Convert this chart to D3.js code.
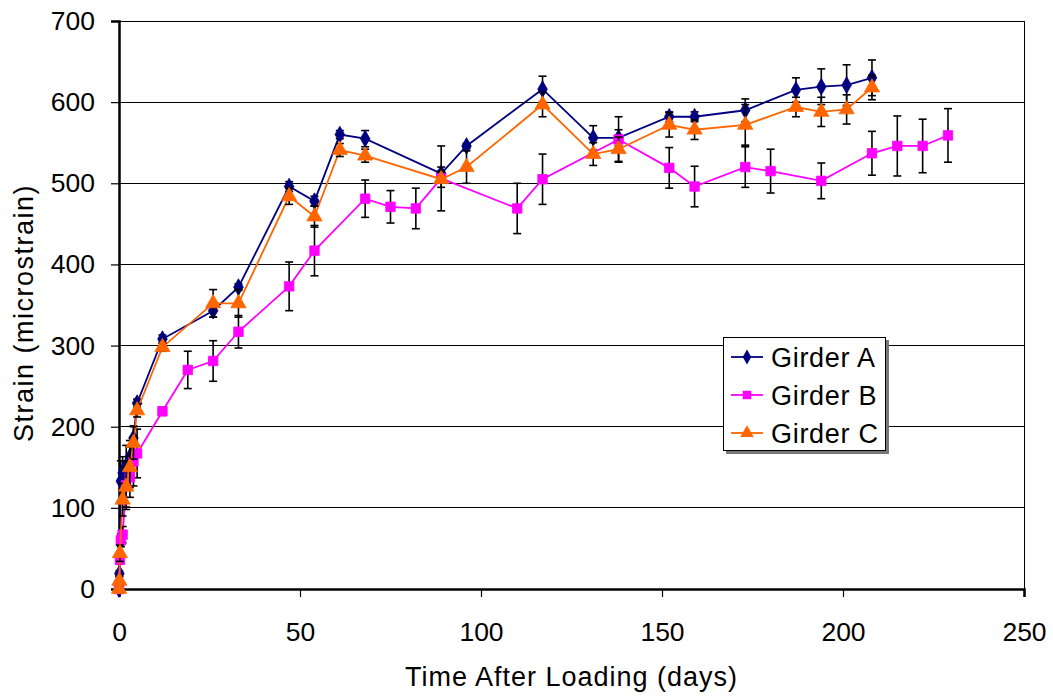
<!DOCTYPE html>
<html>
<head>
<meta charset="utf-8">
<script src="https://cdn.jsdelivr.net/npm/d3@7"></script>
<style>
html,body{margin:0;padding:0;background:#fff;}
svg text{font-family:"Liberation Sans",Arial,sans-serif;fill:#000;}
</style>
</head>
<body>
<svg id="chart" width="1053" height="696"></svg>
<script>
const xTicks = [0, 50, 100, 150, 200, 250];
const yTicks = [0, 100, 200, 300, 400, 500, 600, 700];

const seriesNames = ["Girder A", "Girder B", "Girder C"];

const daysA = [0, 0.1, 0.5, 1, 2, 3, 4, 5, 12, 26, 33, 47, 54, 61, 68, 89, 96, 117, 131, 138, 152, 159, 173, 187, 194, 201, 208];
const strainA = [0, 19, 133, 143, 152, 163, 186, 229, 308, 343, 372, 496, 478, 560, 555, 512, 546, 616, 556, 556, 582, 582, 590, 615, 619, 621, 630];
const errA = [0, 3, 25, 20, 25, 20, 15, 5, 5, 8, 4, 6, 6, 5, 10, 8, 3, 16, 15, 10, 6, 6, 14, 15, 22, 25, 22];

const daysB = [0, 0.25, 0.5, 1, 2, 3, 4, 5, 12, 19, 26, 33, 47, 54, 68, 75, 82, 89, 110, 117, 138, 152, 159, 173, 180, 194, 208, 215, 222, 229];
const strainB = [0, 36, 60, 67, 128, 138, 157, 167, 219, 270, 281, 317, 373, 417, 481, 471, 469, 506, 469, 505, 554, 519, 496, 520, 515, 503, 537, 546, 546, 559];
const errB = [0, 5, 8, 10, 30, 25, 30, 30, 5, 23, 25, 20, 30, 31, 23, 20, 25, 40, 31, 31, 28, 25, 25, 25, 27, 22, 27, 37, 33, 33];

const daysC = [0, 0.1, 0.25, 1, 2, 3, 4, 5, 12, 26, 33, 47, 54, 61, 68, 89, 96, 117, 131, 138, 152, 159, 173, 187, 194, 201, 208];
const strainC = [0, 10, 44, 110, 126, 150, 180, 220, 298, 352, 352, 484, 459, 541, 534, 505, 520, 597, 536, 542, 572, 566, 572, 594, 588, 591, 618];
const errC = [0, 5, 10, 20, 25, 25, 20, 8, 5, 17, 17, 10, 13, 8, 8, 10, 20, 15, 14, 15, 15, 12, 25, 12, 18, 18, 15];

const colors = ["#000080", "#FF00FF", "#FF6600"];
const symbols = [d3.symbolDiamond, d3.symbolSquare, d3.symbolTriangle];
const symSizes = [80, 90, 100];

const series = [
  {name: seriesNames[0], days: daysA, vals: strainA, err: errA},
  {name: seriesNames[1], days: daysB, vals: strainB, err: errB},
  {name: seriesNames[2], days: daysC, vals: strainC, err: errC}
];

const L = 119, R = 1024, T = 21, B = 589;
const svg = d3.select("#chart");

const x = d3.scaleLinear().domain([0, 250]).range([L, R]);
const y = d3.scaleLinear().domain([0, 700]).range([B, T]);

// gridlines
svg.append("g")
  .selectAll("line").data(yTicks.filter(t => t > 0)).join("line")
  .attr("x1", L).attr("x2", R)
  .attr("y1", d => y(d)).attr("y2", d => y(d))
  .attr("stroke", "#000").attr("stroke-width", 1).attr("shape-rendering", "crispEdges");

// right border
svg.append("line").attr("x1", R).attr("x2", R).attr("y1", T).attr("y2", B)
  .attr("stroke", "#000").attr("stroke-width", 1).attr("shape-rendering", "crispEdges");

// axes
const xAxis = d3.axisBottom(x).tickValues(xTicks).tickSize(8).tickPadding(25).tickFormat(d3.format("d"));
const gx = svg.append("g").attr("transform", `translate(0,${B})`).call(xAxis);
gx.select(".domain").attr("stroke-width", 2.5);
gx.selectAll(".tick line").attr("stroke-width", 1.2);
gx.selectAll("text").attr("font-size", 26.5).attr("font-family", "Liberation Sans, Arial, sans-serif");

const yAxis = d3.axisLeft(y).tickValues(yTicks).tickSize(8).tickPadding(16).tickFormat(d3.format("d"));
const gy = svg.append("g").attr("transform", `translate(${L},0)`).call(yAxis);
gy.select(".domain").attr("stroke-width", 2.5);
gy.selectAll(".tick line").attr("stroke-width", 1.2);
gy.selectAll("text").attr("font-size", 26.5).attr("font-family", "Liberation Sans, Arial, sans-serif");

// axis titles
svg.append("text").attr("x", (L + R) / 2 + 0).attr("y", 686)
  .attr("text-anchor", "middle").attr("font-size", 27).attr("letter-spacing", 1).text("Time After Loading (days)");
svg.append("text").attr("transform", `translate(33,${(T + B) / 2 + 8}) rotate(-90)`)
  .attr("text-anchor", "middle").attr("font-size", 27).attr("letter-spacing", 1.5).text("Strain (microstrain)");

// series
const line = d3.line().x(d => x(d.d)).y(d => y(d.v));
series.forEach((s, i) => {
  const pts = s.days.map((d, k) => ({d: d, v: s.vals[k], e: s.err[k]}));
  const g = svg.append("g");
  g.append("path").datum(pts).attr("d", line)
    .attr("fill", "none").attr("stroke", colors[i]).attr("stroke-width", 1.8);
  const eb = g.append("g").attr("stroke", "#000").attr("stroke-width", 1.6);
  pts.filter(p => p.e > 0).forEach(p => {
    const cx = x(p.d), y1 = y(p.v + p.e), y2 = y(p.v - p.e);
    eb.append("line").attr("x1", cx).attr("x2", cx).attr("y1", y1).attr("y2", y2);
    eb.append("line").attr("x1", cx - 4).attr("x2", cx + 4).attr("y1", y1).attr("y2", y1);
    eb.append("line").attr("x1", cx - 4).attr("x2", cx + 4).attr("y1", y2).attr("y2", y2);
  });
  g.selectAll("path.m").data(pts).join("path").attr("class", "m")
    .attr("transform", p => `translate(${x(p.d)},${y(p.v)})`)
    .attr("d", d3.symbol().type(symbols[i]).size(symSizes[i]))
    .attr("fill", colors[i]).attr("stroke", colors[i]).attr("stroke-width", 0.8);
});

// legend
const lg = svg.append("g");
lg.append("rect").attr("x", 726).attr("y", 340).attr("width", 163).attr("height", 114).attr("fill", "#777");
lg.append("rect").attr("x", 723.5).attr("y", 337.5).attr("width", 162).attr("height", 113)
  .attr("fill", "#fff").attr("stroke", "#000").attr("stroke-width", 1);
seriesNames.forEach((n, i) => {
  const cy = 357 + i * 38;
  lg.append("line").attr("x1", 731).attr("x2", 763).attr("y1", cy).attr("y2", cy)
    .attr("stroke", colors[i]).attr("stroke-width", 1.8);
  lg.append("path").attr("transform", `translate(747,${cy})`)
    .attr("d", d3.symbol().type(symbols[i]).size(symSizes[i] * 0.8)).attr("fill", colors[i]);
  lg.append("text").attr("x", 771).attr("y", cy + 9.5).attr("font-size", 27).attr("letter-spacing", 0.7).text(n);
});
</script>
</body>
</html>
